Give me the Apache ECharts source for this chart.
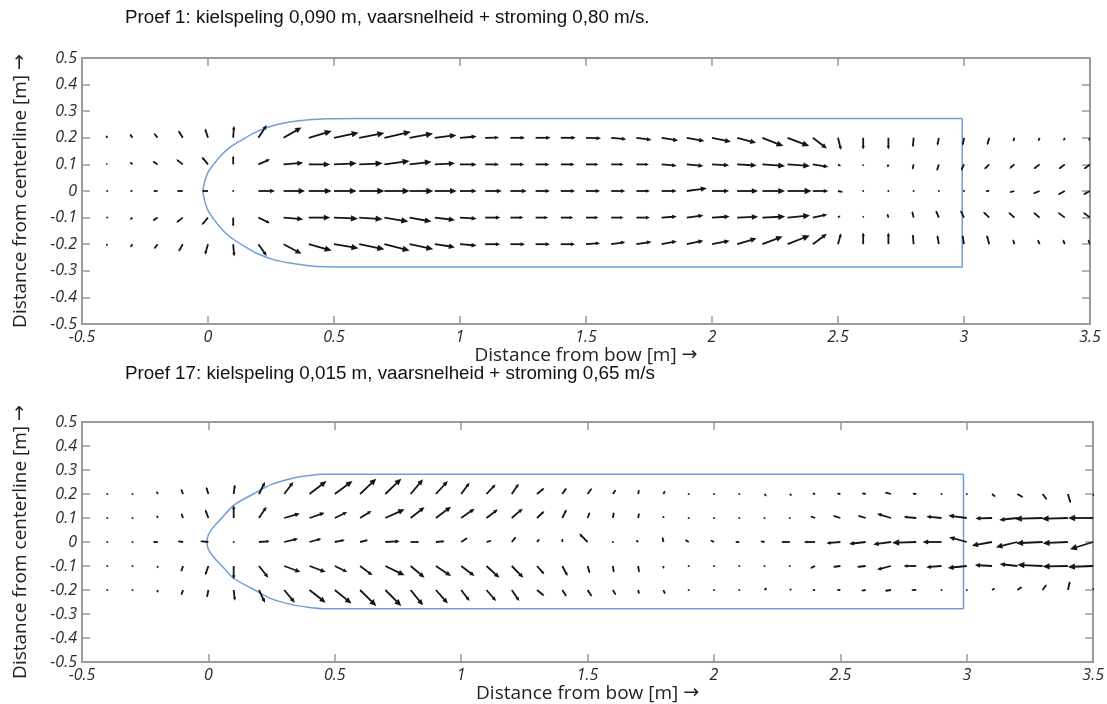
<!DOCTYPE html>
<html><head><meta charset="utf-8">
<script src="https://cdn.jsdelivr.net/npm/echarts@6/dist/echarts.min.js"></script>
<style>html,body{margin:0;padding:0;background:#fff}#c{width:1107px;height:704px}</style>
</head><body><div id="c"></div><script>
// grid columns (distance from bow, m) and rows (distance from centerline, m)
const cols = [-0.4,-0.3,-0.2,-0.1,0,0.1,0.2,0.3,0.4,0.5,0.6,0.7,0.8,0.9,1.0,1.1,1.2,1.3,1.4,1.5,1.6,1.7,1.8,1.9,2.0,2.1,2.2,2.3,2.4,2.5,2.6,2.7,2.8,2.9,3.0,3.1,3.2,3.3,3.4,3.5];
const rows = [0.2, 0.1, 0, -0.1, -0.2];
const xTicks = [-0.5, 0, 0.5, 1, 1.5, 2, 2.5, 3, 3.5];
const yTicks = [-0.5,-0.4,-0.3,-0.2,-0.1,0,0.1,0.2,0.3,0.4,0.5];

const title1 = 'Proef 1: kielspeling 0,090 m, vaarsnelheid + stroming 0,80 m/s.';
const title2 = 'Proef 17: kielspeling 0,015 m, vaarsnelheid + stroming 0,65 m/s';
const xName = 'Distance from bow [m] {a|\u2192}';
const yName = 'Distance from centerline [m] {a|\u2192}';

// ---- Proef 1 : arrow components (as drawn, in m) per row ----
const p1U_p2 = [-0.005,-0.01,-0.015,-0.018,-0.012,0.003,0.033,0.071,0.091,0.098,0.1,0.105,0.093,0.086,0.066,0.055,0.058,0.06,0.06,0.06,0.06,0.06,0.066,0.07,0.075,0.075,0.083,0.086,0.056,0.012,0,0,-0.003,-0.006,-0.005,-0.008,-0.005,-0.006,-0.005,-0.005];
const p1V_p2 = [0.01,0.015,0.018,0.028,0.035,0.045,0.048,0.039,0.026,0.019,0.018,0.023,0.016,0.01,0.005,0.001,0,0,0,-0.002,-0.005,-0.008,-0.01,-0.012,-0.015,-0.019,-0.031,-0.031,-0.04,-0.046,-0.044,-0.044,-0.036,-0.03,-0.03,-0.028,-0.015,-0.013,-0.012,-0.012];
const p1U_p1 = [-0.005,-0.01,-0.02,-0.026,-0.025,0,0.046,0.078,0.085,0.09,0.093,0.1,0.087,0.08,0.066,0.055,0.055,0.055,0.055,0.05,0.05,0.05,0.06,0.066,0.068,0.077,0.09,0.089,0.062,0.012,0,-0.004,-0.005,-0.008,-0.012,-0.02,-0.02,-0.024,-0.025,-0.025];
const p1V_p1 = [0.005,0.01,0.012,0.019,0.029,0.033,0.019,0.006,0,0.004,0.004,0.013,0.01,0.004,0,0,0,0,0,0,0,0,-0.005,-0.006,-0.003,-0.004,-0.006,-0.006,-0.009,-0.007,-0.008,-0.012,-0.02,-0.025,-0.024,-0.019,-0.016,-0.017,-0.018,-0.018];
const p1U_0 = [-0.004,-0.01,-0.018,-0.025,-0.025,0.005,0.066,0.085,0.091,0.09,0.1,0.1,0.094,0.087,0.066,0.066,0.065,0.057,0.057,0.056,0.056,0.054,0.06,0.08,0.068,0.083,0.09,0.095,0.062,0.02,0.005,0.004,0.004,0.003,-0.005,-0.015,-0.02,-0.027,-0.028,-0.028];
const p1V_0 = [0,0,0,0,0,0,0,0,0,0,0,0,0,0,0,0,0,0,0,0,0,0,0,0.01,0,0,0,0,0,-0.004,0,0,0,0,0,0,-0.005,-0.01,-0.014,-0.014];
const p1U_m1 = [-0.004,-0.01,-0.02,-0.026,-0.025,0,0.046,0.078,0.085,0.095,0.093,0.095,0.087,0.08,0.066,0.06,0.052,0.05,0.05,0.05,0.05,0.054,0.06,0.066,0.07,0.083,0.09,0.089,0.058,0.01,0,-0.004,-0.006,-0.012,-0.014,-0.024,-0.024,-0.025,-0.028,-0.028];
const p1V_m1 = [-0.004,-0.008,-0.012,-0.019,-0.028,-0.034,-0.021,-0.006,0,-0.004,-0.006,-0.015,-0.015,-0.009,-0.004,0,0,0,0,0,0,0,0.004,0.008,0.004,0.003,0.004,0.008,0.012,0.008,0.008,0.015,0.025,0.028,0.028,0.022,0.02,0.02,0.02,0.02];
const p1U_m2 = [-0.004,-0.008,-0.014,-0.017,-0.012,0.004,0.033,0.071,0.091,0.097,0.1,0.1,0.094,0.08,0.066,0.06,0.058,0.057,0.057,0.056,0.056,0.06,0.06,0.066,0.07,0.077,0.08,0.088,0.056,0.012,0,0,-0.003,-0.006,-0.006,-0.01,-0.006,-0.008,-0.008,-0.008];
const p1V_m2 = [-0.008,-0.012,-0.018,-0.028,-0.04,-0.046,-0.044,-0.036,-0.024,-0.015,-0.019,-0.024,-0.019,-0.011,-0.005,0,0,0,0,0.004,0.008,0.009,0.011,0.013,0.013,0.022,0.029,0.033,0.039,0.041,0.044,0.044,0.038,0.035,0.035,0.035,0.019,0.018,0.018,0.018];

// ---- Proef 17 : arrow components (as drawn, in m) per row ----
const p2U_p2 = [0,0,-0.006,-0.009,-0.009,0.005,0.024,0.036,0.067,0.07,0.064,0.063,0.049,0.047,0.033,0.036,0.028,0.029,0.017,0.017,0.012,0.004,0.007,0.002,0.002,0.002,0.008,0.008,-0.012,-0.014,-0.016,-0.025,-0.016,-0.003,-0.002,0.014,0.024,0.018,0.011,0.005];
const p2V_p2 = [0.003,0.005,0.012,0.022,0.03,0.04,0.05,0.05,0.054,0.054,0.064,0.064,0.061,0.054,0.047,0.04,0.043,0.025,0.026,0.025,0.019,0.019,0.015,0.003,0.002,0.002,-0.01,-0.008,0.002,0.002,0.003,0.007,0.002,0,0,-0.012,-0.015,-0.025,-0.039,-0.01];
const p2U_p1 = [0,0,-0.004,-0.008,-0.013,0,0.03,0.062,0.06,0.049,0.045,0.076,0.055,0.06,0.053,0.045,0.043,0.029,0.017,0.009,0.004,0.004,0,0,0,0,0,0,-0.02,-0.03,-0.032,-0.055,-0.05,-0.06,-0.073,-0.066,-0.072,-0.11,-0.104,-0.099];
const p2V_p1 = [0.004,0.003,0.012,0.02,0.036,0.053,0.047,0.019,0.022,0.025,0.029,0.036,0.045,0.047,0.039,0.036,0.039,0.029,0.036,0.025,0.025,0.022,0.01,0.006,0.005,0.005,0.004,0.004,0.008,0.01,0.01,0.018,0.005,0.006,0.01,-0.002,-0.008,-0.003,-0.003,0];
const p2U_0 = [-0.004,-0.006,-0.02,-0.022,-0.033,0.002,0.043,0.055,0.047,0.04,0.032,0.057,0.035,0.035,0.026,0.02,0.017,0.01,0,-0.033,0,-0.009,-0.004,-0.015,-0.015,-0.017,-0.017,-0.035,-0.045,-0.055,-0.066,-0.07,-0.095,-0.075,-0.07,-0.08,-0.085,-0.105,-0.1,-0.092];
const p2V_0 = [0,-0.002,0,0.003,0.003,0,0.003,0.014,0.014,0.008,0.008,0.003,0,0.003,0.018,0.006,0.022,0.014,0.015,0.035,0.005,0.008,0.022,0.01,0.008,0,0.003,0,0,-0.005,-0.008,-0.01,-0.003,0,0.02,-0.015,-0.022,-0.005,-0.005,-0.03];
const p2U_m1 = [0,0,-0.003,-0.009,-0.013,0,0.037,0.064,0.064,0.049,0.049,0.076,0.055,0.06,0.053,0.051,0.046,0.029,0.021,0.009,0.004,0.004,0,0,0,0,0,0,-0.02,-0.03,-0.035,-0.055,-0.05,-0.06,-0.075,-0.068,-0.07,-0.1,-0.1,-0.1];
const p2V_m1 = [-0.003,-0.003,-0.01,-0.025,-0.039,-0.055,-0.049,-0.025,-0.025,-0.025,-0.039,-0.039,-0.049,-0.042,-0.042,-0.049,-0.049,-0.035,-0.042,-0.031,-0.028,-0.028,-0.012,-0.006,-0.004,-0.004,-0.004,-0.004,-0.01,-0.004,-0.004,-0.015,0,-0.005,-0.008,0.004,0.008,0.005,-0.002,-0.004];
const p2U_m2 = [0,0,-0.003,-0.008,-0.006,0.005,0.024,0.042,0.064,0.066,0.064,0.063,0.049,0.047,0.033,0.038,0.03,0.029,0.017,0.017,0.012,0.004,0.007,0.002,0,0,0.01,0.008,-0.012,-0.015,-0.018,-0.025,-0.02,-0.003,-0.003,0.012,0.02,0.016,0.008,0.005];
const p2V_m2 = [-0.003,-0.004,-0.012,-0.022,-0.032,-0.045,-0.053,-0.053,-0.053,-0.056,-0.067,-0.067,-0.064,-0.056,-0.046,-0.046,-0.046,-0.025,-0.028,-0.028,-0.022,-0.018,-0.018,-0.003,0.003,0.004,0.01,0.006,0,0,-0.003,-0.004,0,0,0,0.008,0.014,0.024,0.037,0.01];

// ---- ship outlines ----
const hull1X = [2.993,0.6,0.47,0.4,0.33,0.26,0.2,0.148,0.088,0.048,0.022,0.0,-0.013,-0.02,-0.013,0.0,0.022,0.048,0.088,0.148,0.2,0.26,0.33,0.4,0.47,0.6,2.993,2.993];
const hull1Y = [0.273,0.273,0.272,0.268,0.26,0.246,0.226,0.2,0.165,0.13,0.1,0.07,0.035,0,-0.037,-0.073,-0.105,-0.136,-0.173,-0.21,-0.237,-0.258,-0.272,-0.281,-0.285,-0.286,-0.286,0.273];
const hull2X = [2.987,0.55,0.45,0.4,0.33,0.25,0.178,0.1,0.053,0.018,0.0,-0.006,0.0,0.018,0.053,0.1,0.178,0.25,0.33,0.4,0.45,0.55,2.987,2.987];
const hull2Y = [0.282,0.282,0.282,0.277,0.265,0.24,0.2,0.153,0.1,0.06,0.03,0,-0.03,-0.059,-0.099,-0.151,-0.197,-0.237,-0.261,-0.273,-0.278,-0.278,-0.278,0.282];

function quiver(U, V) {
  const out = [];
  for (let r = 0; r < rows.length; r++) {
    for (let c = 0; c < cols.length; c++) {
      out.push([cols[c], rows[r], U[r][c], V[r][c]]);
    }
  }
  return out;
}
const q1 = quiver([p1U_p2,p1U_p1,p1U_0,p1U_m1,p1U_m2],[p1V_p2,p1V_p1,p1V_0,p1V_m1,p1V_m2]);
const q2 = quiver([p2U_p2,p2U_p1,p2U_0,p2U_m1,p2U_m2],[p2V_p2,p2V_p1,p2V_0,p2V_m1,p2V_m2]);
const zip = (a, b) => a.map((v, i) => [v, b[i]]);

function arrowItem(params, api) {
  const x = api.value(0), y = api.value(1), u = api.value(2), v = api.value(3);
  const p0 = api.coord([x, y]);
  const p1 = api.coord([x + u, y + v]);
  const ddx = p1[0] - p0[0], ddy = p1[1] - p0[1];
  const L = Math.hypot(ddx, ddy);
  if (L < 1.6) {
    return {type: 'circle', shape: {cx: p0[0], cy: p0[1], r: 1}, style: {fill: '#222'}};
  }
  const ux = ddx / L, uy = ddy / L;
  const hl = Math.min(Math.max(L * 0.3, 1.5), 7), hw = hl * 0.45;
  const bx = p1[0] - ux * hl, by = p1[1] - uy * hl;
  return {type: 'group', children: [
    {type: 'line', shape: {x1: p0[0], y1: p0[1], x2: bx + ux * hl * 0.3, y2: by + uy * hl * 0.3},
     style: {stroke: '#151515', lineWidth: 1.8}},
    {type: 'polygon', shape: {points: [[p1[0], p1[1]], [bx - uy * hw, by + ux * hw], [bx + uy * hw, by - ux * hw]]},
     style: {fill: '#151515'}}
  ]};
}

const axisColor = '#9a9a9a';
const tickLabel = {color: '#2a2a2a', fontStyle: 'italic', fontFamily: 'Open Sans', fontSize: 16};
const axLine = {show: true, onZero: false, lineStyle: {color: axisColor, width: 2}};
const axTick = {show: true, inside: true, length: 8, lineStyle: {color: axisColor, width: 1.5}};
const nameStyle = {fontFamily: 'Open Sans', fontSize: 19, color: '#222',
  rich: {a: {fontFamily: 'DejaVu Sans', fontSize: 19, color: '#222'}}};
function xAxes(gi) {
  return [
    {gridIndex: gi, type: 'value', min: -0.5, max: 3.5, interval: 0.5, position: 'bottom',
     axisLine: axLine, axisTick: axTick,
     axisLabel: Object.assign({margin: 5}, tickLabel),
     splitLine: {show: false},
     name: xName, nameLocation: 'middle', nameGap: 20, nameTextStyle: nameStyle},
    {gridIndex: gi, type: 'value', min: -0.5, max: 3.5, interval: 0.5, position: 'top',
     axisLine: axLine, axisTick: axTick,
     axisLabel: {show: false}, splitLine: {show: false}}
  ];
}
function yAxes(gi) {
  return [
    {gridIndex: gi, type: 'value', min: -0.5, max: 0.5, interval: 0.1, position: 'left',
     axisLine: axLine, axisTick: axTick,
     axisLabel: Object.assign({margin: 5}, tickLabel),
     splitLine: {show: false},
     name: yName, nameLocation: 'middle', nameGap: 52, nameTextStyle: nameStyle},
    {gridIndex: gi, type: 'value', min: -0.5, max: 0.5, interval: 0.1, position: 'right',
     axisLine: axLine, axisTick: axTick,
     axisLabel: {show: false}, splitLine: {show: false}}
  ];
}

const titleStyle = {fontFamily: 'Liberation Sans', fontSize: 18.8, fontWeight: 'normal', color: '#111'};
const chart = echarts.init(document.getElementById('c'), null, {renderer: 'canvas'});
chart.setOption({
  animation: false,
  backgroundColor: '#fff',
  title: [
    {text: title1, left: 120, top: 3, textStyle: titleStyle},
    {text: title2, left: 120, top: 359, textStyle: titleStyle}
  ],
  grid: [
    {left: 82, top: 58, width: 1008, height: 266},
    {left: 82, top: 422, width: 1012, height: 240}
  ],
  xAxis: [...xAxes(0), ...xAxes(1)],
  yAxis: [...yAxes(0), ...yAxes(1)],
  series: [
    {type: 'line', xAxisIndex: 0, yAxisIndex: 0, data: zip(hull1X, hull1Y), showSymbol: false, smooth: 0.3,
     lineStyle: {color: '#6f9fd6', width: 1.5}, z: 1},
    {type: 'custom', xAxisIndex: 0, yAxisIndex: 0, data: q1, renderItem: arrowItem, clip: true, encode: {x: 0, y: 1}, z: 2},
    {type: 'line', xAxisIndex: 2, yAxisIndex: 2, data: zip(hull2X, hull2Y), showSymbol: false, smooth: 0.3,
     lineStyle: {color: '#6f9fd6', width: 1.5}, z: 1},
    {type: 'custom', xAxisIndex: 2, yAxisIndex: 2, data: q2, renderItem: arrowItem, clip: true, encode: {x: 0, y: 1}, z: 2}
  ]
});
</script></body></html>
